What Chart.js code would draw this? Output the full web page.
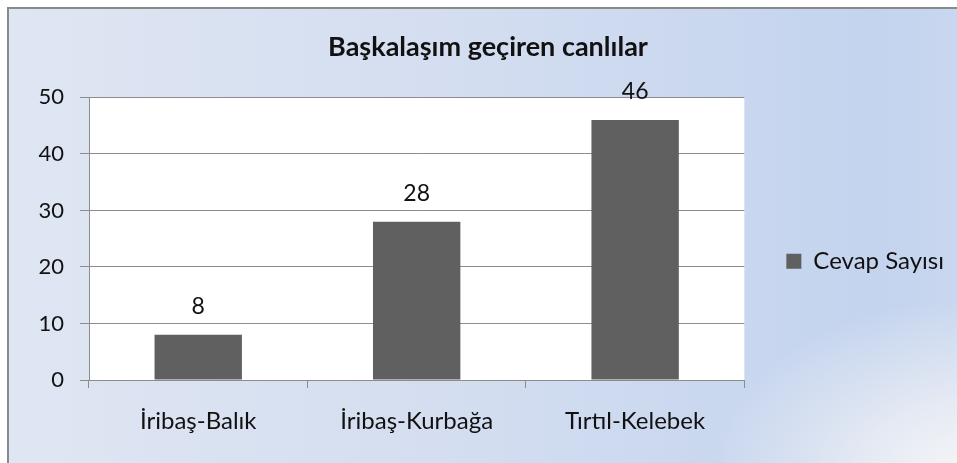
<!DOCTYPE html>
<html>
<head>
<meta charset="utf-8">
<script src="https://cdn.jsdelivr.net/npm/chart.js@4/dist/chart.umd.min.js"></script>
<style>
    html, body { margin: 0; padding: 0; background: #fff; }
    #frame {
        position: absolute; left: 7px; top: 7px; width: 960px; height: 470px;
        border-left: 2px solid #8a8a8a; border-top: 2px solid #8a8a8a;
        background:
            radial-gradient(ellipse 260px 180px at 100% 100%, rgba(246,246,247,1) 0%, rgba(240,241,245,0.7) 45%, rgba(235,238,245,0) 100%),
            linear-gradient(90deg, #dfe6f3 0%, #d4def0 45%, #c9d7ef 75%, #c4d4ee 90%, #c9d7ef 100%);
    }
    #chart { position: absolute; left: 0; top: 0; }
</style>
</head>
<body>
<div id="frame"></div>
<canvas id="chart" width="957" height="463"></canvas>
<script>
const categories = ["İribaş-Balık", "İribaş-Kurbağa", "Tırtıl-Kelebek"];
const cevapSayisi = [8, 28, 46];
const seriesLabel = "Cevap Sayısı";
const yTicks = [0, 10, 20, 30, 40, 50];

const FONT = "Lato, 'Open Sans', sans-serif";

// Beyaz çizim alanı
const plotBackground = {
    id: "plotBackground",
    beforeDraw(chart) {
        const { ctx, chartArea } = chart;
        ctx.save();
        ctx.fillStyle = "#ffffff";
        ctx.fillRect(chartArea.left, chartArea.top, chartArea.right - chartArea.left, chartArea.bottom - chartArea.top);
        ctx.restore();
    }
};

// Çubuk üstü değerler
const valueLabels = {
    id: "valueLabels",
    afterDatasetsDraw(chart) {
        const { ctx } = chart;
        const meta = chart.getDatasetMeta(0);
        ctx.save();
        ctx.font = "23px " + FONT;
        ctx.fillStyle = "#111";
        ctx.textAlign = "center";
        ctx.textBaseline = "middle";
        meta.data.forEach((bar, i) => {
            ctx.fillText(String(chart.data.datasets[0].data[i]), bar.x, bar.y - 28);
        });
        ctx.restore();
    }
};

new Chart(document.getElementById("chart").getContext("2d"), {
    type: "bar",
    data: {
        labels: categories,
        datasets: [{
            label: seriesLabel,
            data: cevapSayisi,
            backgroundColor: "#606060",
            barPercentage: 0.4,
            categoryPercentage: 1.0
        }]
    },
    options: {
        responsive: false,
        animation: false,
        layout: { padding: { left: 22, right: 3, top: 0, bottom: 0 } },
        plugins: {
            legend: {
                position: "right",
                labels: {
                    boxWidth: 15,
                    boxHeight: 15,
                    padding: 42,
                    color: "#111",
                    font: { family: FONT, size: 24 }
                },
                // boş başlık: lejantı biraz aşağı iter
                title: { display: true, text: "", padding: { top: 0, bottom: 45 } }
            },
            tooltip: { enabled: false },
            title: {
                display: true,
                text: "Başkalaşım geçiren canlılar",
                color: "#111",
                font: { family: FONT, size: 27, weight: "bold" },
                padding: { top: 31, bottom: 34 }
            }
        },
        scales: {
            x: {
                afterFit(scale) { scale.height = 83; },
                grid: { offset: true, drawOnChartArea: false, drawTicks: true, tickLength: 8, color: "#8c8c8c" },
                border: { color: "#8c8c8c" },
                ticks: { color: "#111", font: { family: FONT, size: 24 }, padding: 19 }
            },
            y: {
                min: 0,
                max: 50,
                afterFit(scale) { scale.width = 67; },
                afterBuildTicks(scale) { scale.ticks = yTicks.map(v => ({ value: v })); },
                grid: { color: "#8c8c8c", tickLength: 9 },
                border: { color: "#8c8c8c" },
                ticks: { color: "#111", font: { family: FONT, size: 22 }, padding: 16 }
            }
        }
    },
    plugins: [plotBackground, valueLabels]
});
</script>
</body>
</html>
